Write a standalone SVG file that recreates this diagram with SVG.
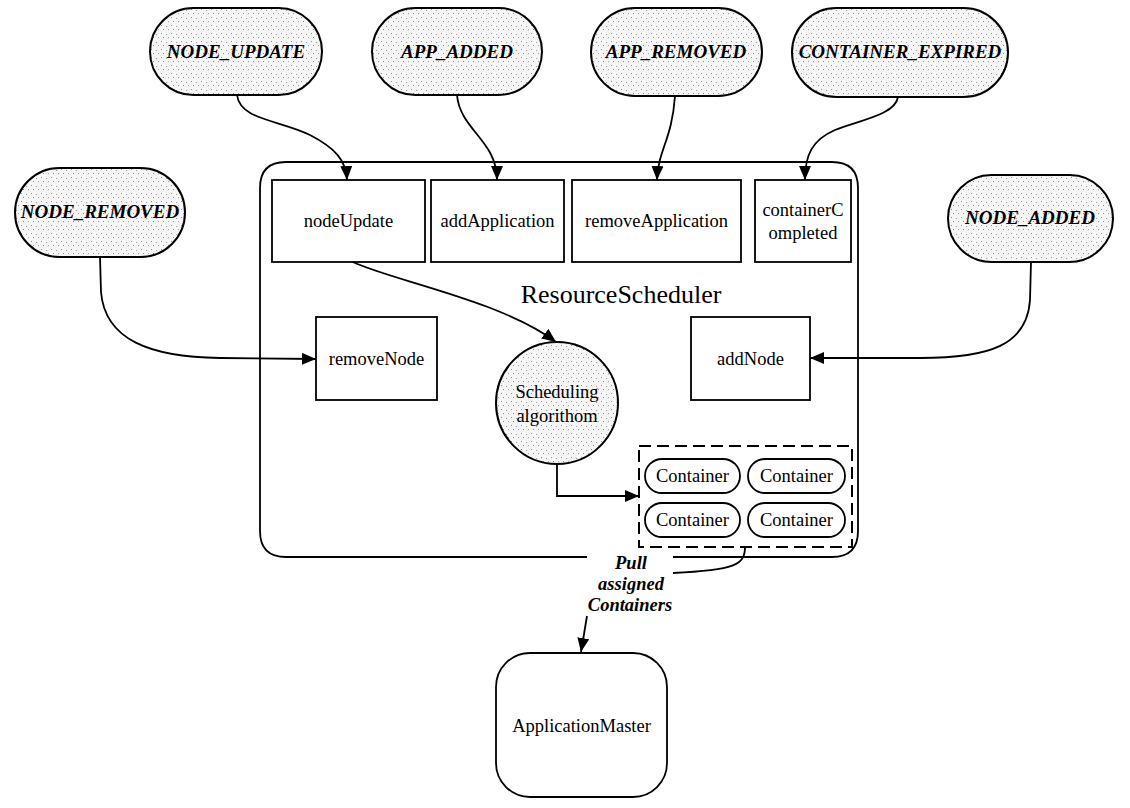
<svg xmlns="http://www.w3.org/2000/svg" width="1130" height="808" viewBox="0 0 1130 808">
  <style>
    .box { fill: #fff; stroke: #000; stroke-width: 1.8; }
    .event { fill: url(#stipple); stroke: #000; stroke-width: 2; }
    .evt { font-family: "Liberation Serif", "Times New Roman", serif; font-size: 19px; font-weight: bold; font-style: italic; text-anchor: middle; fill: #000; }
    .lbl { font-family: "Liberation Serif", "Times New Roman", serif; font-size: 18.5px; text-anchor: middle; fill: #000; }
    .edge { fill: none; stroke: #000; stroke-width: 1.8; marker-end: url(#arrow); }
  </style>
  <defs>
    <!-- speckled halftone fill for event nodes -->
    <pattern id="stipple" width="10" height="8" patternUnits="userSpaceOnUse">
      <rect width="10" height="8" fill="#f6f6f6"/>
      <rect x="1" y="1" width="1" height="1" fill="#909090"/>
      <rect x="6" y="2" width="1.2" height="1" fill="#a0a0a0"/>
      <rect x="3" y="5" width="1" height="1" fill="#8a8a8a"/>
      <rect x="8" y="5" width="1" height="1.2" fill="#a8a8a8"/>
    </pattern>
    <marker id="arrow" viewBox="0 0 14 12" refX="14" refY="6" markerWidth="14" markerHeight="12" markerUnits="userSpaceOnUse" orient="auto">
      <path d="M0,0 L14,6 L0,12 Z" fill="#000"/>
    </marker>
  </defs>

  <rect width="1130" height="808" fill="#fff"/>

  <!-- ResourceScheduler frame (bottom edge interrupted by the pull label) -->
  <g id="resource-scheduler">
    <path d="M587,557 L286,557 Q260,557 260,531 L260,188 Q260,162 286,162 L832,162 Q858,162 858,188 L858,531 Q858,557 832,557 L673,557" fill="none" stroke="#000" stroke-width="1.8"/>
    <text class="lbl" x="621" y="303" style="font-size:26px">ResourceScheduler</text>
  </g>

  <!-- event sources -->
  <g id="node-update-event">
    <rect class="event" x="150" y="8" width="172" height="87" rx="43.5"/>
    <text class="evt" x="236" y="58">NODE_UPDATE</text>
  </g>
  <g id="app-added-event">
    <rect class="event" x="372" y="8" width="170" height="87" rx="43.5"/>
    <text class="evt" x="457" y="58">APP_ADDED</text>
  </g>
  <g id="app-removed-event">
    <rect class="event" x="591" y="8" width="171" height="88" rx="44"/>
    <text class="evt" x="676" y="58">APP_REMOVED</text>
  </g>
  <g id="container-expired-event">
    <rect class="event" x="792" y="8" width="216" height="89" rx="44.5"/>
    <text class="evt" x="900" y="58">CONTAINER_EXPIRED</text>
  </g>
  <g id="node-removed-event">
    <rect class="event" x="15" y="168" width="170" height="89" rx="44.5"/>
    <text class="evt" x="100" y="218">NODE_REMOVED</text>
  </g>
  <g id="node-added-event">
    <rect class="event" x="948" y="175" width="165" height="87" rx="43.5"/>
    <text class="evt" x="1030" y="224">NODE_ADDED</text>
  </g>

  <!-- handler boxes -->
  <g id="node-update">
    <rect class="box" x="272" y="180" width="153" height="82"/>
    <text class="lbl" x="348.5" y="227">nodeUpdate</text>
  </g>
  <g id="add-application">
    <rect class="box" x="431" y="180" width="133" height="82"/>
    <text class="lbl" x="497.5" y="227">addApplication</text>
  </g>
  <g id="remove-application">
    <rect class="box" x="572" y="180" width="169" height="82"/>
    <text class="lbl" x="656.5" y="227">removeApplication</text>
  </g>
  <g id="container-completed">
    <rect class="box" x="755" y="180" width="96" height="82"/>
    <text class="lbl" x="803" y="216">containerC</text>
    <text class="lbl" x="803" y="239">ompleted</text>
  </g>
  <g id="remove-node">
    <rect class="box" x="316" y="317" width="121" height="83"/>
    <text class="lbl" x="376.5" y="365">removeNode</text>
  </g>
  <g id="add-node">
    <rect class="box" x="691" y="317" width="119" height="83"/>
    <text class="lbl" x="750.5" y="365">addNode</text>
  </g>

  <g id="scheduling-algorithm">
    <circle class="event" cx="557" cy="403" r="61"/>
    <text class="lbl" x="557" y="398">Scheduling</text>
    <text class="lbl" x="557" y="422">algorithom</text>
  </g>

  <!-- pool of assigned containers -->
  <g id="container-pool">
    <rect x="639" y="446" width="213" height="101" fill="none" stroke="#000" stroke-width="2" stroke-dasharray="12,6"/>
    <rect class="box" x="645" y="459" width="95" height="34" rx="17"/>
    <text class="lbl" x="692.5" y="482">Container</text>
    <rect class="box" x="748" y="459" width="97" height="34" rx="17"/>
    <text class="lbl" x="796.5" y="482">Container</text>
    <rect class="box" x="645" y="503" width="95" height="34" rx="17"/>
    <text class="lbl" x="692.5" y="526">Container</text>
    <rect class="box" x="748" y="503" width="97" height="34" rx="17"/>
    <text class="lbl" x="796.5" y="526">Container</text>
  </g>

  <g id="application-master">
    <rect class="box" x="496" y="653" width="171" height="144" rx="34"/>
    <text class="lbl" x="581.5" y="732">ApplicationMaster</text>
  </g>

  <!-- connectors -->
  <g id="connectors">
    <path class="edge" d="M237,95 C240,120 280,120 310,135 C335,148 346,160 347,180"/>
    <path class="edge" d="M457,95 C460,130 497,140 497,180"/>
    <path class="edge" d="M675,96 C672,140 658,150 657,180"/>
    <path class="edge" d="M898,97 C895,115 860,120 835,130 C812,140 805,155 805,180"/>
    <path class="edge" d="M100,257 L101,292 C105,340 150,357 220,358 L316,359"/>
    <path class="edge" d="M1031,262 L1030,300 C1027,345 990,358 920,358 L810,358"/>
    <path class="edge" d="M353,262 C390,280 500,300 556,342"/>
    <path class="edge" d="M557,464 L557,496 L639,496"/>
    <path d="M745,547 C745,565 735,570 673,573" fill="none" stroke="#000" stroke-width="1.8"/>
    <path class="edge" d="M587,616 L581,652"/>
    <text class="evt" x="631" y="569" style="font-size:18.5px">Pull</text>
    <text class="evt" x="631" y="590" style="font-size:18.5px">assigned</text>
    <text class="evt" x="630" y="611" style="font-size:18.5px">Containers</text>
  </g>
</svg>
